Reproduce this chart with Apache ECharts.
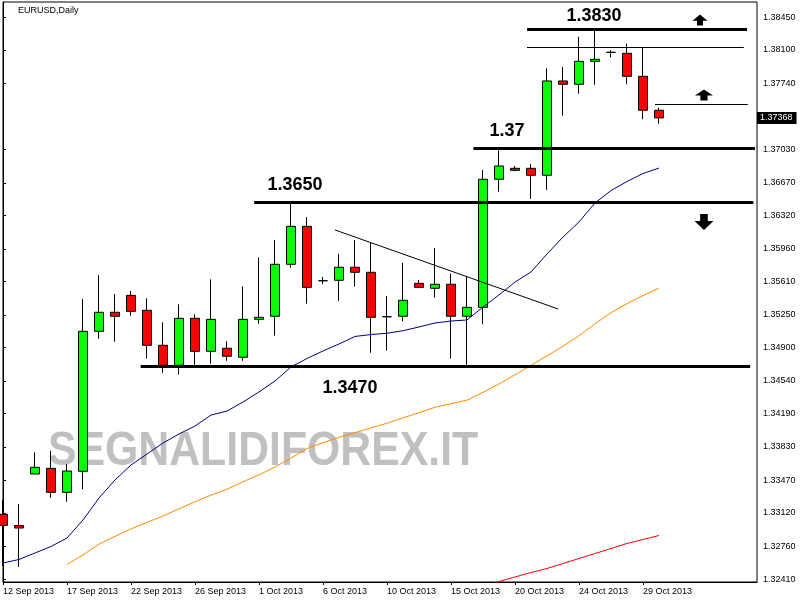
<!DOCTYPE html>
<html>
<head>
<meta charset="utf-8">
<title>EURUSD,Daily</title>
<script src="https://cdn.jsdelivr.net/npm/echarts@6/dist/echarts.min.js"></script>
<style>
  html, body { margin: 0; padding: 0; background: #fff; }
  #chart { width: 800px; height: 600px; }
</style>
</head>
<body>
<div id="chart"></div>
<script>
// daily bars (the feed has sunday candles, no saturdays)
var dates = ['12 Sep 2013', '13 Sep 2013', '15 Sep 2013', '16 Sep 2013', '17 Sep 2013', '18 Sep 2013',
  '19 Sep 2013', '20 Sep 2013', '22 Sep 2013', '23 Sep 2013', '24 Sep 2013', '25 Sep 2013',
  '26 Sep 2013', '27 Sep 2013', '29 Sep 2013', '30 Sep 2013', '1 Oct 2013', '2 Oct 2013',
  '3 Oct 2013', '4 Oct 2013', '6 Oct 2013', '7 Oct 2013', '8 Oct 2013', '9 Oct 2013',
  '10 Oct 2013', '11 Oct 2013', '13 Oct 2013', '14 Oct 2013', '15 Oct 2013', '16 Oct 2013',
  '17 Oct 2013', '18 Oct 2013', '20 Oct 2013', '21 Oct 2013', '22 Oct 2013', '23 Oct 2013',
  '24 Oct 2013', '25 Oct 2013', '27 Oct 2013', '28 Oct 2013', '29 Oct 2013', '30 Oct 2013'];

var opens = [1.33106, 1.32985, 1.33539, 1.33600, 1.33342, 1.33568, 1.35073, 1.35278, 1.35460, 1.35299,
  1.34923, 1.34708, 1.35213, 1.34858, 1.34891, 1.34794, 1.35202, 1.35235, 1.35794, 1.36202,
  1.35617, 1.35622, 1.35762, 1.35708, 1.35230, 1.35235, 1.35589, 1.35536, 1.35579, 1.35235,
  1.35331, 1.36708, 1.36826, 1.36826, 1.36751, 1.37765, 1.37729, 1.37976, 1.38073, 1.38062,
  1.37815, 1.37450];
var closes = [1.32987, 1.32958, 1.33611, 1.33342, 1.33571, 1.35073, 1.35278, 1.35235, 1.35288, 1.34923,
  1.34708, 1.35213, 1.34858, 1.35202, 1.34805, 1.35202, 1.35224, 1.35794, 1.36202, 1.35546,
  1.35617, 1.35762, 1.35708, 1.35224, 1.35230, 1.35407, 1.35546, 1.35579, 1.35235, 1.35331,
  1.36708, 1.36851, 1.36804, 1.36751, 1.37765, 1.37729, 1.37976, 1.37998, 1.38073, 1.37815,
  1.37450, 1.37368];
var lows = [1.32550, 1.32539, 1.33539, 1.33284, 1.33241, 1.33375, 1.34994, 1.34962, 1.35241, 1.34779,
  1.34628, 1.34607, 1.34708, 1.34725, 1.34757, 1.34757, 1.35155, 1.35026, 1.35757, 1.35370,
  1.35582, 1.35402, 1.35553, 1.34843, 1.34865, 1.35181, 1.35546, 1.35435, 1.34779, 1.34704,
  1.35149, 1.36574, 1.36794, 1.36496, 1.36593, 1.37392, 1.37628, 1.37725, 1.38019, 1.37729,
  1.37353, 1.37306];
var highs = [1.33260, 1.33217, 1.33772, 1.33790, 1.33647, 1.35421, 1.35676, 1.35474, 1.35507, 1.35428,
  1.35170, 1.35364, 1.35256, 1.35632, 1.34966, 1.35557, 1.35869, 1.36055, 1.36450, 1.36302,
  1.35657, 1.35905, 1.36055, 1.36026, 1.35453, 1.35808, 1.35625, 1.35969, 1.35693, 1.35660,
  1.36808, 1.37023, 1.36851, 1.36872, 1.37901, 1.37915, 1.38241, 1.38305, 1.38095, 1.38166,
  1.38127, 1.37478];

// moving averages (blue / orange / red)
var maBlue = [1.32582, 1.32620, 1.32690, 1.32760, 1.32851, 1.33045, 1.33281, 1.33475, 1.33636, 1.33754,
  1.33872, 1.33969, 1.34055, 1.34173, 1.34216, 1.34313, 1.34421, 1.34539, 1.34690, 1.34781,
  1.34862, 1.34937, 1.35018, 1.35039, 1.35052, 1.35080, 1.35120, 1.35163, 1.35184, 1.35195,
  1.35335, 1.35464, 1.35603, 1.35711, 1.35905, 1.36087, 1.36249, 1.36453, 1.36587, 1.36684,
  1.36770, 1.36829];
var maOrange = [null, null, null, null, 1.32566, 1.32668, 1.32786, 1.32869, 1.32949, 1.33019,
  1.33088, 1.33165, 1.33240, 1.33312, 1.33376, 1.33456, 1.33530, 1.33614, 1.33711, 1.33813,
  1.33877, 1.33933, 1.33984, 1.34035, 1.34085, 1.34142, 1.34199, 1.34256, 1.34296, 1.34333,
  1.34418, 1.34507, 1.34606, 1.34708, 1.34810, 1.34913, 1.35026, 1.35154, 1.35274, 1.35371,
  1.35458, 1.35539];
var maRed = [null, null, null, null, null, null, null, null, null, null,
  null, null, null, null, null, null, null, null, null, null,
  null, null, null, null, null, null, null, null, null, null,
  1.32330, 1.32383, 1.32432, 1.32480, 1.32523, 1.32577, 1.32631, 1.32684, 1.32738, 1.32792,
  1.32835, 1.32878];

// axis labels
var dateTicks = ['12 Sep 2013', '17 Sep 2013', '22 Sep 2013', '26 Sep 2013', '1 Oct 2013', '6 Oct 2013',
  '10 Oct 2013', '15 Oct 2013', '20 Oct 2013', '24 Oct 2013', '29 Oct 2013'];
var priceTicks = [1.32410, 1.32760, 1.33120, 1.33470, 1.33830, 1.34190, 1.34540, 1.34900, 1.35250,
  1.35610, 1.35960, 1.36320, 1.36670, 1.37030, 1.37740, 1.38100, 1.38450];
var lastPrice = 1.37368;

// drawn objects: levels, their start/end bar, thick or thin
var lineLevels = [1.38324, 1.38127, 1.37514, 1.37041, 1.36460, 1.34700];
var lineFrom = [32.75, 32.75, 40.75, 29.4, 15.7, 8.6];
var lineTo = [46.5, 46.3, 46.55, 47.0, 46.9, 46.7];
var lineThick = [true, false, false, true, true, true];
var trendBars = [20.75, 34.7];
var trendPrices = [1.36163, 1.35313];
var levelTexts = ['1.3830', '1.37', '1.3650', '1.3470'];
var levelTextBars = [36.94, 31.5, 18.25, 21.69];
var levelTextPrices = [1.38463, 1.37227, 1.36646, 1.34464];
var arrowBars = [43.56, 43.81, 43.81];
var arrowPrices = [1.38420, 1.37614, 1.36249];
var arrowUp = [true, true, false];

var yMin = 1.32378, yMax = 1.38614;

var candleData = [];
for (var i = 0; i < dates.length; i++) {
  candleData.push([i, opens[i], closes[i], lows[i], highs[i]]);
}
function toXY(arr) {
  return arr.map(function (v, i) { return [i, v]; });
}
var tickIdx = dateTicks.map(function (d) { return dates.indexOf(d); });

var markLines = [];
for (var k = 0; k < lineLevels.length; k++) {
  markLines.push([
    { coord: [lineFrom[k], lineLevels[k]], lineStyle: { width: lineThick[k] ? 3 : 1 } },
    { coord: [lineTo[k], lineLevels[k]] }
  ]);
}
markLines.push([
  { coord: [trendBars[0], trendPrices[0]], lineStyle: { width: 1 } },
  { coord: [trendBars[1], trendPrices[1]] }
]);

var arrowSizes = [[15, 11], [18, 11], [19, 16]];
var markPoints = [];
for (var t = 0; t < levelTexts.length; t++) {
  markPoints.push({
    name: levelTexts[t],
    coord: [levelTextBars[t], levelTextPrices[t]],
    symbol: 'circle',
    symbolSize: 1,
    itemStyle: { color: 'rgba(0,0,0,0)' },
    label: {
      show: true, position: 'inside', formatter: '{b}',
      fontFamily: 'Liberation Sans', fontWeight: 'bold', fontSize: 18, color: '#000'
    }
  });
}
for (var a = 0; a < arrowBars.length; a++) {
  markPoints.push({
    coord: [arrowBars[a], arrowPrices[a]],
    symbol: 'path://M10,0 L20,10 L14,10 L14,18 L6,18 L6,10 L0,10 Z',
    symbolSize: arrowSizes[a],
    symbolRotate: arrowUp[a] ? 0 : 180,
    itemStyle: { color: '#000' },
    label: { show: false }
  });
}

var myChart = echarts.init(document.getElementById('chart'));
myChart.setOption({
  animation: false,
  backgroundColor: '#fff',
  title: {
    text: 'EURUSD,Daily',
    left: 18,
    top: 6,
    padding: 0,
    textStyle: { fontFamily: 'Liberation Sans', fontSize: 9, fontWeight: 'normal', color: '#000' }
  },
  graphic: [
    {
      type: 'text',
      z: 0,
      x: 48,
      y: 451,
      scaleX: 0.873,
      style: {
        text: 'SEGNALIDIFOREX.IT',
        font: 'bold 49px "Liberation Sans"',
        fill: '#c0c0c0',
        verticalAlign: 'middle'
      }
    }
  ],
  grid: {
    left: 3,
    right: 43,
    top: 2,
    bottom: 18,
    show: true,
    borderColor: '#000',
    borderWidth: 1
  },
  xAxis: {
    type: 'value',
    min: 0,
    max: 47.125,
    axisLine: { show: true, lineStyle: { color: '#000' } },
    axisTick: { show: true, length: 3, lineStyle: { color: '#000' }, customValues: tickIdx },
    axisLabel: {
      customValues: tickIdx,
      align: 'left',
      margin: 5,
      fontFamily: 'Liberation Sans',
      fontSize: 9,
      color: '#000',
      formatter: function (v) { return dates[Math.round(v)] || ''; }
    },
    splitLine: { show: false }
  },
  yAxis: [
    {
      type: 'value',
      position: 'right',
      min: yMin,
      max: yMax,
      axisLine: { show: true, lineStyle: { color: '#000' } },
      axisTick: { show: true, length: 3, lineStyle: { color: '#000' }, customValues: priceTicks },
      axisLabel: {
        customValues: priceTicks,
        margin: 6,
        fontFamily: 'Liberation Sans',
        fontSize: 9,
        color: '#000',
        formatter: function (v) { return v.toFixed(5); }
      },
      splitLine: { show: false }
    },
    {
      type: 'value',
      position: 'right',
      min: yMin,
      max: yMax,
      axisLine: { show: false },
      axisTick: { show: false },
      axisLabel: {
        customValues: [lastPrice],
        margin: 0,
        fontFamily: 'Liberation Sans',
        fontSize: 9,
        color: '#fff',
        backgroundColor: '#000',
        padding: [2, 4, 1, 3],
        formatter: function (v) { return v.toFixed(5); }
      },
      splitLine: { show: false }
    }
  ],
  series: [
    {
      type: 'candlestick',
      data: candleData,
      barWidth: 9,
      itemStyle: {
        color: '#00ff00',
        color0: '#ff0000',
        borderColor: '#000',
        borderColor0: '#000',
        borderColorDoji: '#000',
        borderWidth: 1
      },
      markLine: {
        silent: true,
        symbol: ['none', 'none'],
        label: { show: false },
        lineStyle: { color: '#000', type: 'solid' },
        data: markLines
      },
      markPoint: {
        silent: true,
        data: markPoints
      }
    },
    {
      type: 'line',
      data: toXY(maBlue),
      showSymbol: false,
      lineStyle: { color: '#000080', width: 1 }
    },
    {
      type: 'line',
      data: toXY(maOrange),
      showSymbol: false,
      lineStyle: { color: '#ff8c00', width: 1 }
    },
    {
      type: 'line',
      data: toXY(maRed),
      showSymbol: false,
      lineStyle: { color: '#ff0000', width: 1 }
    }
  ]
});
</script>
</body>
</html>
